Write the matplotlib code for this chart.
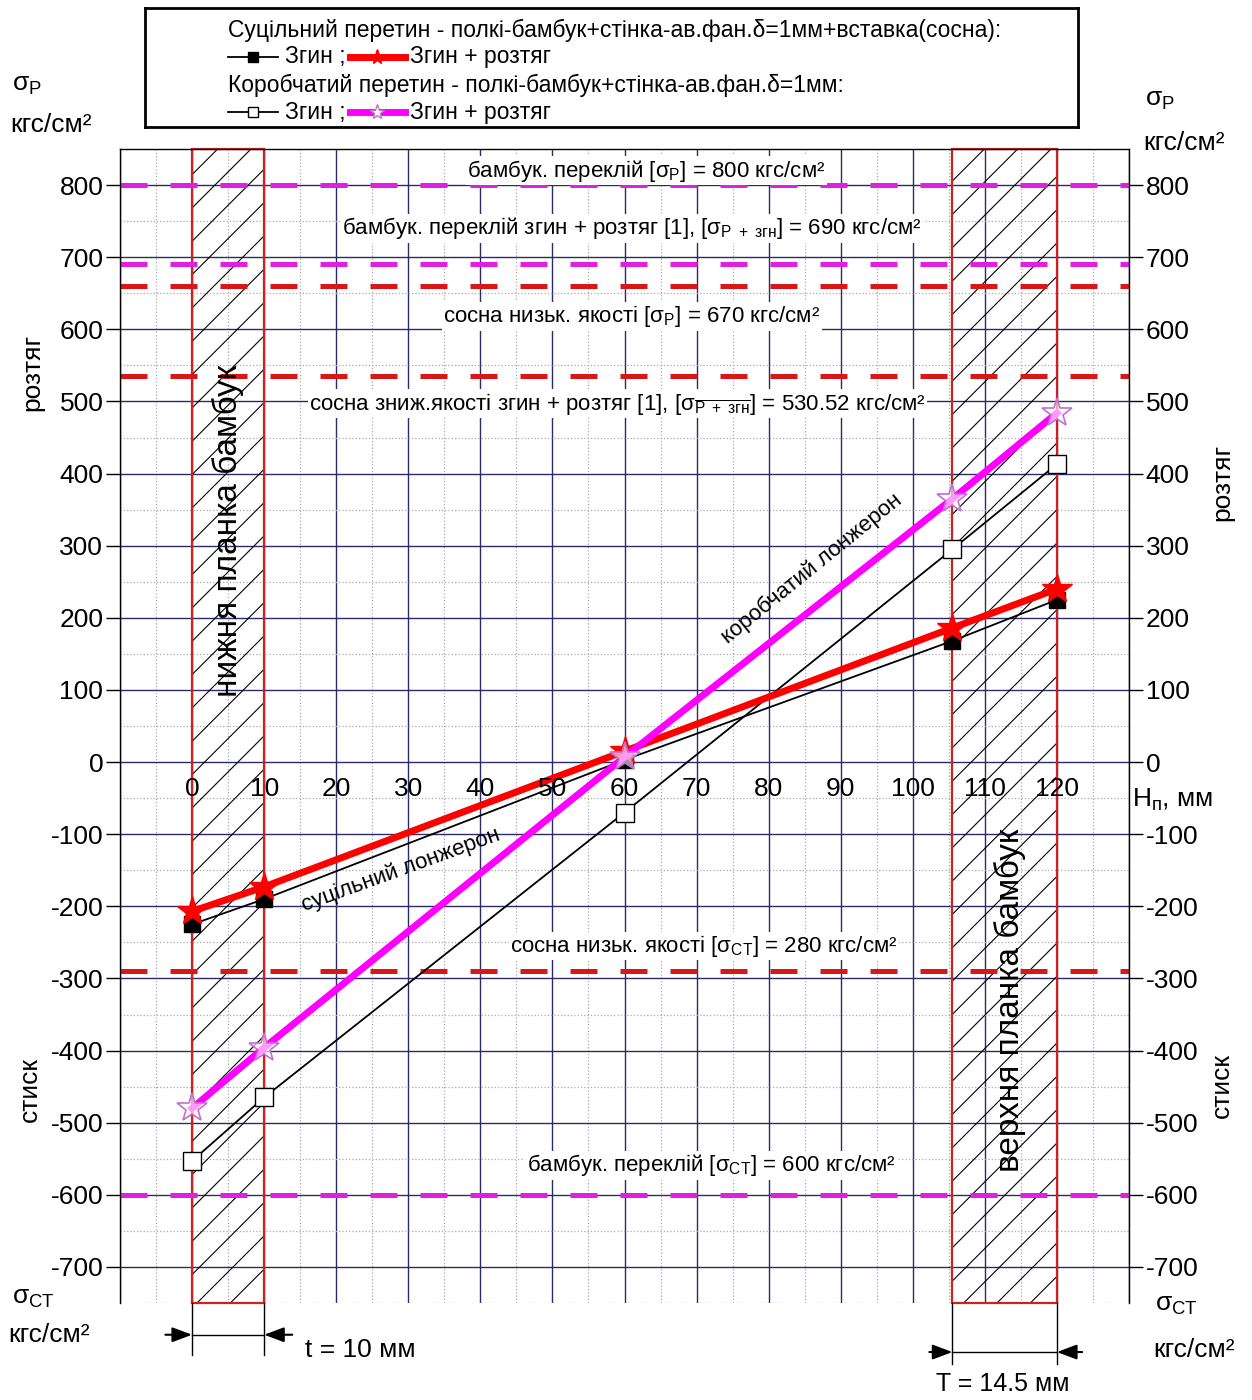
import numpy as np
import matplotlib.pyplot as plt
from matplotlib.patches import Rectangle

plt.rcParams['font.family'] = ['Liberation Sans', 'DejaVu Sans']
plt.rcParams['mathtext.fontset'] = 'custom'
plt.rcParams['mathtext.rm'] = 'Liberation Sans'
plt.rcParams['mathtext.it'] = 'Liberation Sans:italic'
plt.rcParams['axes.unicode_minus'] = False
plt.rcParams['hatch.linewidth'] = 0.8

# data
h_points = [0, 10, 60, 105.5, 120]          # mm
solid_bend = [-225, -190, 3, 168, 225]        # суцільний, згин
solid_bend_tens = [-207, -173, 15, 186, 240]  # суцільний, згин + розтяг
box_bend = [-553, -465, -70, 295, 413]        # коробчатий, згин
box_bend_tens = [-480, -396, 7, 365, 484]     # коробчатий, згин + розтяг

x_ticks = list(range(0, 121, 10))
y_ticks = list(range(-700, 801, 100))

# allowable stress levels
limit_values = [800, 690, 660, 535, -290, -600]
limit_colors = ['#e020e0', '#e020e0', '#d81818', '#d81818', '#d81818', '#e020e0']
limit_texts = [
    'бамбук. переклій [σ$_\\mathrm{P}$] = 800 кгс/см²',
    'бамбук. переклій згин + розтяг [1], [σ$_\\mathrm{P\\ +\\ згн}$] = 690 кгс/см²',
    'сосна низьк. якості [σ$_\\mathrm{P}$] = 670 кгс/см²',
    'сосна зниж.якості згин + розтяг [1], [σ$_{\\overline{\\mathrm{P\\ +\\ згн}}}$] = 530.52 кгс/см²',
    'сосна низьк. якості [σ$_\\mathrm{СТ}$] = 280 кгс/см²',
    'бамбук. переклій [σ$_\\mathrm{СТ}$] = 600 кгс/см²',
]
text_pos = [(63, 820), (61, 740), (61, 618), (59, 497), (71, -255), (72, -559)]

W, H = 1252, 1400
fig = plt.figure(figsize=(12.52, 14), dpi=100)


def fx(px):
    return px / W


def fy(py):
    return 1 - py / H


ax = fig.add_axes([fx(120), fy(1303), (1129 - 120) / W, (1303 - 149) / H])
ax.set_xlim(-10, 130)
ax.set_ylim(-750, 850)

# grid
ax.set_xticks(range(-10, 131, 10))
ax.set_xticks(np.arange(-5, 130, 5), minor=True)
ax.set_yticks(y_ticks)
ax.set_yticks(range(-750, 851, 50), minor=True)
ax.grid(which='minor', color='#aaaaaa', linestyle=':', linewidth=0.9, zorder=0)
ax.grid(which='major', color='#2b2b66', linestyle='-', linewidth=1.0, zorder=0)
ax.set_axisbelow(True)
ax.tick_params(axis='x', which='both', bottom=False, labelbottom=False)
ax.tick_params(axis='y', which='minor', left=False, right=False)
ax.tick_params(axis='y', which='major', direction='out', length=10, width=1,
               left=True, right=True, labelleft=True, labelright=True,
               labelsize=19, pad=2)
ax.spines['bottom'].set_visible(False)
for s in ['left', 'right', 'top']:
    ax.spines[s].set_linewidth(1.0)

# x labels on the zero line
for xv in x_ticks:
    ax.text(xv, -38, str(xv), ha='center', va='center', fontsize=19, zorder=6)
ax.text(136, -53, 'H$_\\mathrm{п}$, мм', ha='center', va='center', fontsize=19,
        clip_on=False)

# hatched flanges
for x0, w in [(0, 10), (105.5, 14.5)]:
    ax.add_patch(Rectangle((x0, -750), w, 1600, facecolor='none', edgecolor='black',
                           hatch='/', linewidth=0, zorder=1, clip_on=False))
    ax.add_patch(Rectangle((x0, -750), w, 1600, facecolor='none', edgecolor='#cc2222',
                           linewidth=1.6, zorder=2, clip_on=False))

ax.text(5, 320, 'нижня планка бамбук', rotation=90, ha='center', va='center',
        fontsize=24, zorder=6)
ax.text(113.5, -330, 'верхня планка бамбук', rotation=90, ha='center', va='center',
        fontsize=24, zorder=6)

# allowable lines
for val, col in zip(limit_values, limit_colors):
    ax.axhline(val, color=col, linewidth=3.6, dashes=(5.4, 4.6), zorder=2)
for (tx, ty), txt in zip(text_pos, limit_texts):
    ax.text(tx, ty, txt, ha='center', va='center', fontsize=16, zorder=6,
            bbox=dict(facecolor='white', edgecolor='none', pad=1))

# data lines
ax.plot(h_points, solid_bend, color='black', linewidth=1.3, marker='s',
        markersize=12, markerfacecolor='black', zorder=3)
ax.plot(h_points, box_bend, color='black', linewidth=1.3, marker='s',
        markersize=13, markerfacecolor='white', markeredgecolor='black', zorder=3)
ax.plot(h_points, solid_bend_tens, color='#ff0000', linewidth=5, marker='*',
        markersize=22, markerfacecolor='#ff0000', markeredgecolor='#ff0000', zorder=4)
ax.plot(h_points, box_bend_tens, color='#ff00ff', linewidth=5, marker='*',
        markersize=22, markerfacecolor=(1, 1, 1, 0.6), markeredgecolor='#c070d0',
        markeredgewidth=1.2, zorder=5)

ax.text(86, 268, 'коробчатий лонжерон', rotation=39, ha='center', va='center',
        fontsize=16, zorder=6)
ax.text(29, -150, 'суцільний лонжерон', rotation=20, ha='center', va='center',
        fontsize=16, zorder=6)

# dimensions below the plot
dim_kw = dict(color='black', linewidth=1.0, clip_on=False)
ax.plot([0, 0], [-750, -822], **dim_kw)
ax.plot([10, 10], [-750, -822], **dim_kw)
ax.plot([0, 10], [-794, -794], **dim_kw)
ax.plot([105.5, 105.5], [-750, -835], **dim_kw)
ax.plot([120, 120], [-750, -835], **dim_kw)
ax.plot([105.5, 120], [-818, -818], **dim_kw)
arr = dict(arrowstyle='-|>,head_length=1.2,head_width=0.45', color='black', lw=1.5,
           shrinkA=0, shrinkB=0)
for (xs, xe, yv) in [(-3.7, 0, -794), (13.9, 10, -794),
                     (102.3, 105.5, -818), (123.5, 120, -818)]:
    ax.annotate('', xy=(xe, yv), xytext=(xs, yv), arrowprops=arr,
                annotation_clip=False)
ax.text(15.7, -815, 't = 10 мм', ha='left', va='center', fontsize=19, clip_on=False)
ax.text(112.5, -862, 'T = 14.5 мм', ha='center', va='center', fontsize=18, clip_on=False)

# side labels
side = dict(fontsize=19, va='center')
fig.text(fx(12), fy(85), 'σ$_\\mathrm{P}$', ha='left', **side)
fig.text(fx(10), fy(125), 'кгс/см²', ha='left', **side)
fig.text(fx(32), fy(372), 'розтяг', rotation=90, ha='center', **side)
fig.text(fx(30), fy(1090), 'стиск', rotation=90, ha='center', **side)
fig.text(fx(12), fy(1298), 'σ$_\\mathrm{СТ}$', ha='left', **side)
fig.text(fx(8), fy(1335), 'кгс/см²', ha='left', **side)
fig.text(fx(1145), fy(100), 'σ$_\\mathrm{P}$', ha='left', **side)
fig.text(fx(1143), fy(143), 'кгс/см²', ha='left', **side)
fig.text(fx(1222), fy(482), 'розтяг', rotation=90, ha='center', **side)
fig.text(fx(1222), fy(1085), 'стиск', rotation=90, ha='center', **side)
fig.text(fx(1155), fy(1305), 'σ$_\\mathrm{СТ}$', ha='left', **side)
fig.text(fx(1153), fy(1350), 'кгс/см²', ha='left', **side)

# legend box
lg = fig.add_axes([fx(145), fy(127), (1078 - 145) / W, (127 - 8) / H])
lg.set_xlim(145, 1078)
lg.set_ylim(127, 8)
lg.set_xticks([])
lg.set_yticks([])
for s in lg.spines.values():
    s.set_linewidth(2)
lfs = 16.5
lg.text(228, 30, 'Суцільний перетин - полкі-бамбук+стінка-ав.фан.δ=1мм+вставка(сосна):',
        va='center', fontsize=lfs)
lg.plot([228, 278], [57, 57], color='black', lw=1.3)
lg.plot([253], [57], marker='s', color='black', ms=7)
lg.text(285, 57, 'Згин ;', va='center', fontsize=lfs)
lg.plot([350, 405], [57, 57], color='#ff0000', lw=5)
lg.plot([377], [57], marker='*', color='#ff0000', ms=11)
lg.text(410, 57, 'Згин + розтяг', va='center', fontsize=lfs)
lg.text(228, 85, 'Коробчатий перетин - полкі-бамбук+стінка-ав.фан.δ=1мм:',
        va='center', fontsize=lfs)
lg.plot([228, 278], [112, 112], color='black', lw=1.3)
lg.plot([253], [112], marker='s', mfc='white', mec='black', ms=7)
lg.text(285, 112, 'Згин ;', va='center', fontsize=lfs)
lg.plot([350, 405], [112, 112], color='#ff00ff', lw=5)
lg.plot([377], [112], marker='*', mfc='white', mec='#c070d0', ms=11)
lg.text(410, 112, 'Згин + розтяг', va='center', fontsize=lfs)

fig.savefig('out.png', dpi=100)
